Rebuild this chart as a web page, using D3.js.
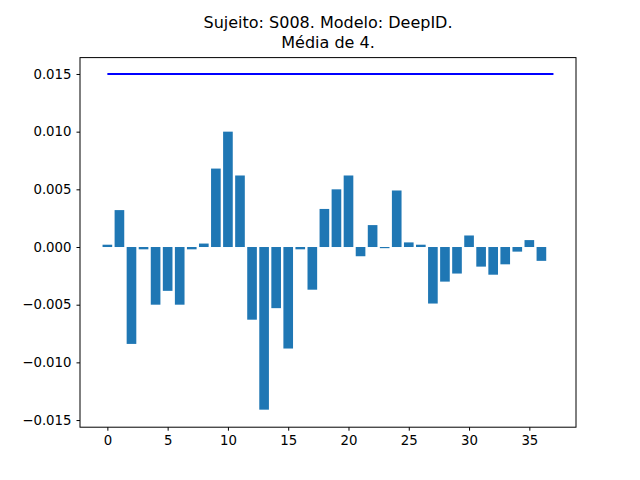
<!DOCTYPE html>
<html><head><meta charset="utf-8">
<script src="https://cdn.jsdelivr.net/npm/d3@7"></script>
<style>body{margin:0;background:#fff}text{font-family:"DejaVu Sans",sans-serif}</style>
</head><body><div id="chart"></div>
<script>
var titleLines = ["Sujeito: S008. Modelo: DeepID.", "Média de 4."];
var values = [0.0002, 0.0032, -0.0084, -0.0002, -0.0050, -0.0038, -0.0050, -0.0002, 0.0003,
  0.0068, 0.0100, 0.0062, -0.0063, -0.0141, -0.0053, -0.0088, -0.0002, -0.0037, 0.0033,
  0.0050, 0.0062, -0.0008, 0.0019, -0.0001, 0.0049, 0.0004, 0.0002, -0.0049, -0.0030,
  -0.0023, 0.0010, -0.0017, -0.0024, -0.0015, -0.0004, 0.0006, -0.0012];
var lineX = [0, 37];
var lineY = 0.015;
var xTicks = [0, 5, 10, 15, 20, 25, 30, 35];
var yTicks = [-0.015, -0.010, -0.005, 0.000, 0.005, 0.010, 0.015];

var width = 640, height = 480;
var margin = {left: 80, right: 64, top: 57.6, bottom: 52.8};
var svg = d3.select('#chart').append('svg').attr('width', width).attr('height', height);

var x = d3.scaleLinear().domain([-2.27, 38.87]).range([margin.left, width - margin.right]);
var y = d3.scaleLinear().domain([-0.01562, 0.01642]).range([height - margin.bottom, margin.top]);

svg.selectAll('.bar').data(values).enter().append('rect')
  .attr('x', function(d, i){ return x(i - 0.4); })
  .attr('width', x(0.8) - x(0))
  .attr('y', function(d){ return y(Math.max(d, 0)); })
  .attr('height', function(d){ return Math.abs(y(d) - y(0)); })
  .attr('fill', '#1f77b4');

svg.append('line')
  .attr('x1', x(lineX[0])).attr('x2', x(lineX[1]))
  .attr('y1', y(lineY)).attr('y2', y(lineY))
  .attr('stroke', 'blue').attr('stroke-width', 2);

var xaxis = svg.append('g').attr('transform', 'translate(0,' + (height - margin.bottom) + ')')
  .call(d3.axisBottom(x).tickValues(xTicks).tickSize(3.5).tickPadding(5).tickFormat(d3.format('d')));
var yaxis = svg.append('g').attr('transform', 'translate(' + margin.left + ',0)')
  .call(d3.axisLeft(y).tickValues(yTicks).tickSize(3.5).tickPadding(5).tickFormat(d3.format('.3f')));
[xaxis, yaxis].forEach(function(a){
  a.select('.domain').remove();
  a.selectAll('text').attr('font-size', 13.3).attr('fill', '#000').style('font-family', '"DejaVu Sans"');
  a.selectAll('line').attr('stroke', '#000');
});

svg.append('rect').attr('x', margin.left).attr('y', margin.top)
  .attr('width', width - margin.left - margin.right)
  .attr('height', height - margin.top - margin.bottom)
  .attr('fill', 'none').attr('stroke', '#000').attr('stroke-width', 1);

titleLines.forEach(function(t, i){
  svg.append('text').attr('x', (margin.left + width - margin.right) / 2).attr('y', 28 + i * 20)
    .attr('text-anchor', 'middle').attr('font-size', 16).text(t);
});
</script></body></html>
